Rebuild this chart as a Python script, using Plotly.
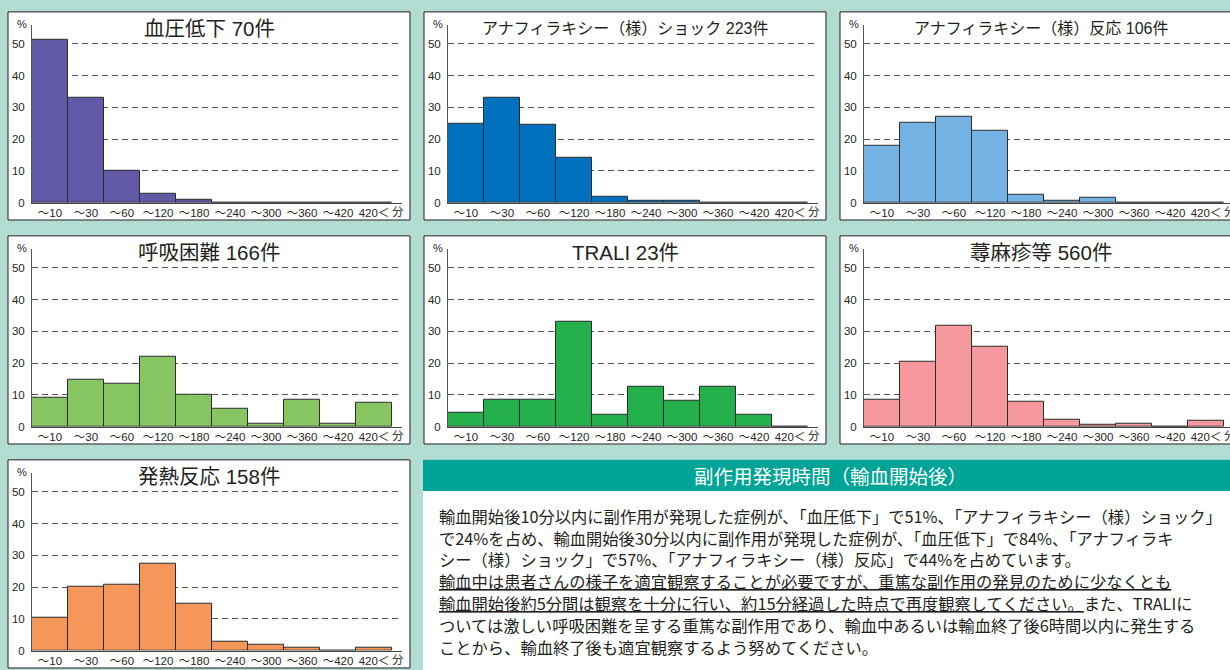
import plotly.graph_objects as go

W, H = 1230, 670

categories = ["〜10", "〜30", "〜60", "〜120", "〜180", "〜240", "〜300", "〜360", "〜420", "420＜"]

hypotension = [51.4, 32.9, 10.0, 2.9, 0.9, 0, 0, 0, 0, 0]
anaphylactic_shock = [24.7, 33.0, 24.5, 14.0, 1.9, 0.5, 0.5, 0, 0, 0]
anaphylactic_reaction = [18.0, 25.3, 27.1, 22.6, 2.5, 0.7, 1.6, 0, 0, 0]
dyspnea = [9.1, 14.8, 13.6, 22.1, 10.1, 5.7, 1.0, 8.5, 1.0, 7.5]
trali = [4.4, 8.5, 8.5, 33.1, 3.8, 12.6, 8.2, 12.7, 3.8, 0]
urticaria = [8.5, 20.3, 31.9, 25.0, 7.9, 2.2, 0.6, 1.0, 0, 1.9]
fever = [10.2, 20.2, 20.8, 27.4, 14.9, 2.9, 2.0, 1.0, 0, 1.0]

titles = ["血圧低下 70件", "アナフィラキシー（様）ショック 223件", "アナフィラキシー（様）反応 106件",
          "呼吸困難 166件", "TRALI 23件", "蕁麻疹等 560件", "発熱反応 158件"]
series = [hypotension, anaphylactic_shock, anaphylactic_reaction, dyspnea, trali, urticaria, fever]
colors = ["#6159a6", "#0071bc", "#73b2e2", "#86c562", "#24b14c", "#f5999e", "#f5975a"]
title_sizes = [20.5, 16, 16, 20.5, 20.5, 20.5, 20.5]
grid_pos = [(0, 0), (0, 1), (0, 2), (1, 0), (1, 1), (1, 2), (2, 0)]
y_ticks = [0, 10, 20, 30, 40, 50]

box_title = "副作用発現時間（輸血開始後）"
box_lines = [
    "輸血開始後10分以内に副作用が発現した症例が、「血圧低下」で51%、「アナフィラキシー（様）ショック」",
    "で24%を占め、輸血開始後30分以内に副作用が発現した症例が、「血圧低下」で84%、「アナフィラキ",
    "シー（様）ショック」で57%、「アナフィラキシー（様）反応」で44%を占めています。",
    "<u>輸血中は患者さんの様子を適宜観察することが必要ですが、重篤な副作用の発見のために少なくとも</u>",
    "<u>輸血開始後約5分間は観察を十分に行い、約15分経過した時点で再度観察してください。</u>また、TRALIに",
    "ついては激しい呼吸困難を呈する重篤な副作用であり、輸血中あるいは輸血終了後6時間以内に発生する",
    "ことから、輸血終了後も適宜観察するよう努めてください。",
]

BG = "#b3ddd3"
TEXT = "#231f20"
JP = "Noto Sans CJK JP"
LAT = "Liberation Sans, Arial, Noto Sans CJK JP"

col_left = [8, 424, 840]
row_top = [12, 238, 464]
PW, PH = 402, 210
CAT_W = 36.0


def fx(x):
    return min(max(x / W, 0), 1)


def fy(y):
    return min(max(1 - y / H, 0), 1)


fig = go.Figure()
shapes = []
annotations = []
layout = {}

for i, (vals, col, title, tsize) in enumerate(zip(series, colors, titles, title_sizes)):
    r, c = grid_pos[i]
    L, T = col_left[c], row_top[r]
    n = "" if i == 0 else str(i + 1)
    xa, ya = "x" + n, "y" + n
    x0p = L + 24
    x1p = min(L + 394, W)
    fig.add_trace(go.Bar(
        x=categories, y=vals, xaxis=xa, yaxis=ya,
        marker=dict(color=col, line=dict(color="#2b2b2b", width=1)),
        showlegend=False, hoverinfo="skip",
    ))
    layout["xaxis" + n] = dict(
        domain=[fx(x0p), fx(x1p)], anchor=ya, type="category",
        categoryorder="array", categoryarray=categories,
        range=[-0.5, -0.5 + (x1p - x0p) / CAT_W], showgrid=False, zeroline=False,
        showline=True, linecolor="#444", linewidth=1, ticks="",
        tickfont=dict(family=LAT, size=11.5, color=TEXT), fixedrange=True,
    )
    layout["yaxis" + n] = dict(
        domain=[fy(T + 192.5), fy(T + 13)], anchor=xa, range=[0, 56],
        tickvals=y_ticks, showgrid=True, gridcolor="#555", gridwidth=1,
        griddash="6px,4px", zeroline=False, showline=True, linecolor="#555",
        linewidth=1, ticks="", ticklabelstandoff=4,
        tickfont=dict(family=LAT, size=11.5, color=TEXT), fixedrange=True,
    )
    shapes.append(dict(type="rect", xref="paper", yref="paper", layer="below",
                       x0=L / W, x1=(L + PW) / W, y0=1 - (T + PH) / H, y1=1 - T / H,
                       fillcolor="white", line=dict(color=TEXT, width=1)))
    annotations.append(dict(text=title, xref="paper", yref="paper", x=fx(L + PW / 2), y=fy(T + 17),
                            xanchor="center", yanchor="middle", showarrow=False,
                            font=dict(family=LAT, size=tsize, color=TEXT)))
    annotations.append(dict(text="%", xref="paper", yref="paper", x=fx(L + 14), y=fy(T + 12),
                            xanchor="center", yanchor="middle", showarrow=False,
                            font=dict(family=LAT, size=11, color=TEXT)))
    annotations.append(dict(text="分", xref="paper", yref="paper", x=(L + 390) / W, y=fy(T + 201),
                            xanchor="center", yanchor="middle", showarrow=False,
                            font=dict(family=JP, size=11.5, color=TEXT)))

# text box
shapes.append(dict(type="rect", xref="paper", yref="paper", layer="below",
                   x0=423 / W, x1=1245 / W, y0=1 - 680 / H, y1=1 - 464 / H,
                   fillcolor="white", line=dict(width=0)))
shapes.append(dict(type="rect", xref="paper", yref="paper", layer="below",
                   x0=423 / W, x1=1245 / W, y0=1 - 495.5 / H, y1=1 - 464 / H,
                   fillcolor="#00a496", line=dict(width=0)))
annotations.append(dict(text=box_title, xref="paper", yref="paper", x=fx(830), y=fy(480),
                        xanchor="center", yanchor="middle", showarrow=False,
                        font=dict(family=JP, size=19.5, color="white")))
line_y = [520.5, 542.5, 564.5, 586.5, 608.5, 630.5, 652.5]
for txt, yy in zip(box_lines, line_y):
    annotations.append(dict(text=txt, xref="paper", yref="paper", x=fx(438), y=fy(yy),
                            xanchor="left", yanchor="middle", showarrow=False, borderpad=0,
                            font=dict(family=JP, size=16.3, color=TEXT)))

fig.update_layout(
    width=W, height=H, margin=dict(l=0, r=0, t=0, b=0),
    paper_bgcolor=BG, plot_bgcolor="rgba(0,0,0,0)",
    bargap=0, shapes=shapes, annotations=annotations, **layout,
)

fig.write_html("out.html", config={"displayModeBar": False},
               post_script="document.body.style.margin='0';document.body.style.padding='0';")
